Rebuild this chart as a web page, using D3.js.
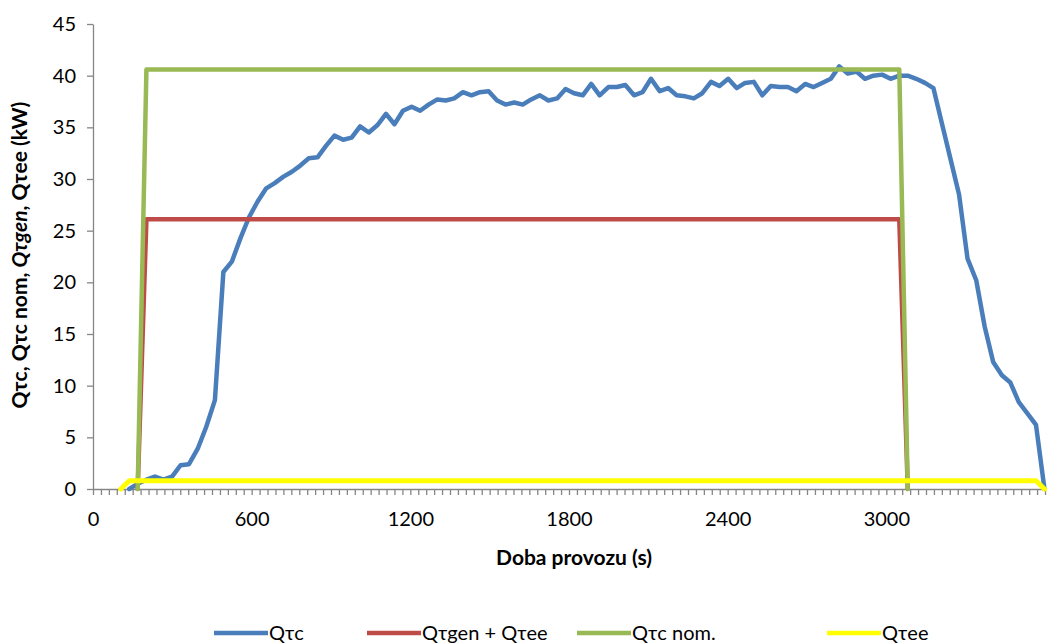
<!DOCTYPE html>
<html><head><meta charset="utf-8">
<script src="https://cdn.jsdelivr.net/npm/d3@7"></script>
<style>
body{margin:0;background:#fff}
svg{display:block}
text{font-family:Lato,"Liberation Sans",sans-serif;fill:#000}
</style>
</head><body>
<svg id="c" width="1047" height="644"></svg>
<script>
// time stamps (s)
const times = [105,137,169,202,234,266,299,331,363,396,428,461,493,525,558,590,622,655,687,719,752,784,816,849,881,913,946,978,1010,1043,1075,1108,1140,1172,1205,1237,1269,1302,1334,1366,1399,1431,1463,1496,1528,1560,1593,1625,1657,1690,1722,1755,1787,1819,1852,1884,1916,1949,1981,2013,2046,2078,2110,2143,2175,2207,2240,2272,2304,2337,2369,2402,2434,2466,2499,2531,2563,2596,2628,2660,2693,2725,2757,2790,2822,2854,2887,2919,2951,2984,3016,3049,3081,3113,3146,3178,3210,3243,3275,3307,3340,3372,3404,3437,3469,3501,3534,3566,3598];
// Qtc (kW), measured from times[1]
const qtc = [0,0.5,0.9,1.2,0.9,1.2,2.3,2.4,3.9,6.0,
8.6,21.0,22.0,24.3,26.3,27.8,29.1,29.6,30.2,30.7,
31.3,32.0,32.1,33.2,34.2,33.8,34.0,35.1,34.5,35.2,
36.3,35.3,36.6,37.0,36.6,37.2,37.7,37.6,37.8,38.4,
38.1,38.4,38.5,37.6,37.2,37.4,37.2,37.7,38.1,37.6,
37.8,38.7,38.3,38.1,39.2,38.1,38.9,38.9,39.1,38.1,
38.4,39.7,38.5,38.8,38.1,38.0,37.8,38.3,39.4,39.0,
39.7,38.8,39.3,39.4,38.1,39.0,38.9,38.9,38.5,39.2,
38.9,39.3,39.7,40.9,40.2,40.4,39.7,40.0,40.1,39.7,
40.0,40.0,39.7,39.3,38.8,35.4,31.9,28.5,22.3,20.2,
15.7,12.3,11.0,10.3,8.4,7.3,6.2,0];
// Qtgen + Qtee
const genTimes = [169,202,3049,3081];
const genValues = [0,26.1,26.1,0];
// Qtc nom.
const nomTimes = [169,202,3049,3081];
const nomValues = [0,40.6,40.6,0];
// Qtee
const teeTimes = [105,137,3566,3598];
const teeValues = [0,0.8,0.8,0];

const xTickLabels = [0,600,1200,1800,2400,3000];
const yTickValues = [0,5,10,15,20,25,30,35,40,45];
const seriesNames = ["Q\u03c4c","Q\u03c4gen + Q\u03c4ee","Q\u03c4c nom.","Q\u03c4ee"];
const colors = ["#4A7EBB","#BE4B48","#98B954","#FFFF00"];

const svg = d3.select("#c");
const x = d3.scaleLinear().domain([0,3600]).range([93,1045]);
const y = d3.scaleLinear().domain([0,45]).range([489,24]);

// axes
const minor = d3.range(0,3601,30);
const xAxis = d3.axisBottom(x).tickValues(minor).tickSize(6).tickSizeOuter(0).tickPadding(17)
  .tickFormat(d => xTickLabels.includes(d) ? d : "");
const gx = svg.append("g").attr("transform","translate(0,489)").call(xAxis);
const yAxis = d3.axisLeft(y).tickValues(yTickValues).tickSize(6).tickSizeOuter(0).tickPadding(11);
const gy = svg.append("g").attr("transform","translate(93,0)").call(yAxis);
[gx,gy].forEach(g=>{
  g.selectAll(".domain").attr("stroke","#868686").attr("stroke-width",1.3);
  g.selectAll(".tick line").attr("stroke","#868686").attr("stroke-width",1.3);
  g.selectAll(".tick text").style("font-size","20px").style("font-family","Lato, 'Liberation Sans', sans-serif").attr("fill","#000");
});

// lines
const line = d3.line().x(d=>x(d[0])).y(d=>y(d[1])).defined(d=>d[1]!=null);
const data = [
  d3.zip(times.slice(1), qtc),
  d3.zip(genTimes, genValues),
  d3.zip(nomTimes, nomValues),
  d3.zip(teeTimes, teeValues)
];
data.forEach((d,i)=>{
  svg.append("path").datum(d).attr("d",line)
    .attr("fill","none").attr("stroke",colors[i])
    .attr("stroke-width", i===3?5:4.5)
    .attr("stroke-linejoin","round").attr("stroke-linecap","round");
});

// axis titles
svg.append("text").attr("x",574).attr("y",565).attr("text-anchor","middle")
  .style("font-size","21px").style("font-weight","bold").text("Doba provozu (s)");
const yt = svg.append("text").attr("transform","translate(27,255) rotate(-90)")
  .attr("text-anchor","middle").style("font-size","21px").style("font-weight","bold");
yt.append("tspan").text("Q\u03c4c, Q\u03c4c nom, ");
yt.append("tspan").style("font-style","italic").text("Q\u03c4gen");
yt.append("tspan").text(", Q\u03c4ee (kW)");

// legend
const legX = [214,367,577,827];
const lg = svg.append("g");
seriesNames.forEach((n,i)=>{
  lg.append("line").attr("x1",legX[i]).attr("x2",legX[i]+54).attr("y1",633).attr("y2",633)
    .attr("stroke",colors[i]).attr("stroke-width",4.5);
  lg.append("text").attr("x",legX[i]+55).attr("y",640).style("font-size","20px").text(n);
});
</script>
</body></html>
